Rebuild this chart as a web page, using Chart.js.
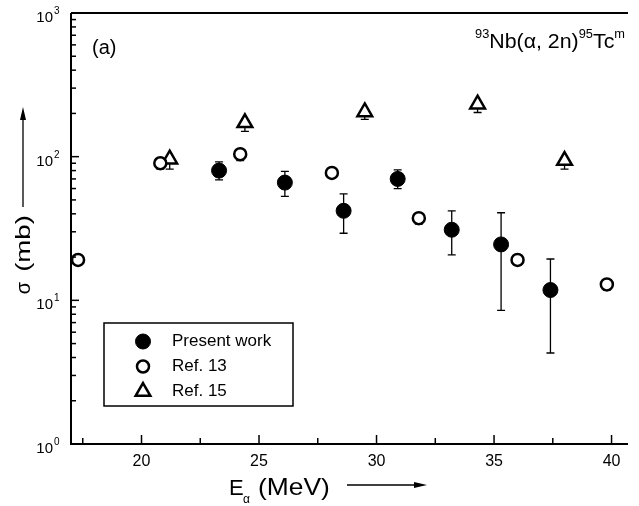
<!DOCTYPE html>
<html>
<head>
<meta charset="utf-8">
<script src="https://cdn.jsdelivr.net/npm/chart.js@4.4.1/dist/chart.umd.min.js"></script>
<style>
  html, body { margin: 0; padding: 0; background: #fff; }
  #wrap { width: 639px; height: 506px; position: relative; }
</style>
</head>
<body>
<div id="wrap"><canvas id="c"></canvas></div>
<script>
// --- data ---
const presentE    = [23.3, 26.1, 28.6, 30.9, 33.2, 35.3, 37.4];
const presentSig  = [80, 66, 42, 70, 31, 24.5, 11.8];
const presentLo   = [69, 53, 29.3, 60, 20.7, 8.5, 4.3];
const presentHi   = [92, 79, 55, 81, 42, 40.7, 19.4];

const ref13E   = [17.3, 20.8, 24.2, 28.1, 31.8, 36.0, 39.8];
const ref13Sig = [19.1, 90, 104, 77, 37.3, 19.1, 12.9];
const ref13Lo  = [17.5, 82, 94, 71, 34, 17.5, 11.8];
const ref13Hi  = [19.1, 90, 104, 77, 37.3, 19.1, 12.9];

const ref15E   = [21.2, 24.4, 29.5, 34.3, 38.0];
const ref15Sig = [96, 172, 205, 232, 94];
const ref15Lo  = [82, 150, 182, 203, 82];
const ref15Hi  = [96, 172, 205, 232, 94];

const xMajor = [20, 25, 30, 35, 40];
const xMinor = [17.5, 22.5, 27.5, 32.5, 37.5];
const yDecades = [1, 10, 100, 1000];
const yExp = ["0", "1", "2", "3"];

const FONT = '"Liberation Sans", Arial, sans-serif';

function pts(xs, ys) { return xs.map((x, i) => ({ x: x, y: ys[i] })); }

const errSets = [
  { lo: presentLo, hi: presentHi, cap: 4 },
  { lo: ref13Lo, hi: ref13Hi, cap: 4 },
  { lo: ref15Lo, hi: ref15Hi, cap: 4 }
];

// text drawn with a horizontal stretch (the scanned figure uses a wide face)
function wideText(ctx, txt, x, y, sx) {
  ctx.save();
  ctx.translate(x, y);
  ctx.scale(sx, 1);
  ctx.fillText(txt, 0, 0);
  ctx.restore();
}

const decor = {
  id: "decor",
  beforeDatasetsDraw(chart) {
    const ctx = chart.ctx;
    const xs = chart.scales.x, ys = chart.scales.y;
    ctx.save();
    ctx.strokeStyle = "#000";
    ctx.lineWidth = 1.3;
    // error bars
    chart.data.datasets.forEach((ds, di) => {
      const e = errSets[di];
      ds.data.forEach((p, i) => {
        const px = xs.getPixelForValue(p.x);
        const y1 = ys.getPixelForValue(e.lo[i]);
        const y2 = ys.getPixelForValue(e.hi[i]);
        if (Math.abs(y1 - y2) < 0.5) return;
        ctx.beginPath();
        ctx.moveTo(px, y1); ctx.lineTo(px, y2);
        ctx.moveTo(px - e.cap, y1); ctx.lineTo(px + e.cap, y1);
        if (di === 0) { ctx.moveTo(px - e.cap, y2); ctx.lineTo(px + e.cap, y2); }
        ctx.stroke();
      });
    });
    ctx.restore();
  },
  afterDraw(chart) {
    const ctx = chart.ctx;
    const a = chart.chartArea;
    const xs = chart.scales.x, ys = chart.scales.y;
    ctx.save();
    ctx.strokeStyle = "#000";
    ctx.fillStyle = "#000";
    ctx.lineWidth = 2;
    // frame: left, bottom, top
    ctx.beginPath();
    ctx.moveTo(a.left, a.top); ctx.lineTo(a.right, a.top);
    ctx.moveTo(a.left, a.top); ctx.lineTo(a.left, a.bottom);
    ctx.lineTo(a.right, a.bottom);
    ctx.stroke();

    // y ticks, inward
    ctx.lineWidth = 1.5;
    yDecades.forEach((d, k) => {
      const py = ys.getPixelForValue(d);
      ctx.beginPath(); ctx.moveTo(a.left, py); ctx.lineTo(a.left + 8, py); ctx.stroke();
      ctx.font = "15px " + FONT;
      ctx.textAlign = "right"; ctx.textBaseline = "alphabetic";
      ctx.fillText("10", 53, py + 9);
      ctx.font = "10px " + FONT;
      ctx.textAlign = "left";
      ctx.fillText(yExp[k], 54, py + 1);
      if (k < yDecades.length - 1) {
        for (let m = 2; m <= 9; m++) {
          const my = ys.getPixelForValue(d * m);
          ctx.beginPath(); ctx.moveTo(a.left, my); ctx.lineTo(a.left + 5, my); ctx.stroke();
        }
      }
    });
    // x ticks, inward
    ctx.font = "16px " + FONT;
    ctx.textAlign = "center"; ctx.textBaseline = "middle";
    xMajor.forEach(v => {
      const px = xs.getPixelForValue(v);
      ctx.beginPath(); ctx.moveTo(px, a.bottom); ctx.lineTo(px, a.bottom - 9); ctx.stroke();
      ctx.fillText(String(v), px, a.bottom + 18);
    });
    xMinor.forEach(v => {
      const px = xs.getPixelForValue(v);
      ctx.beginPath(); ctx.moveTo(px, a.bottom); ctx.lineTo(px, a.bottom - 6); ctx.stroke();
    });

    // (a)
    ctx.font = "20px " + FONT;
    ctx.textAlign = "left"; ctx.textBaseline = "alphabetic";
    ctx.fillText("(a)", 92, 54);

    // reaction label, right-aligned
    const parts = [["93", 12, -10], ["Nb(α, 2n)", 20, 0], ["95", 12, -10], ["Tc", 20, 0], ["m", 12, -10]];
    let w = 0;
    parts.forEach(p => { ctx.font = p[1] + "px " + FONT; w += ctx.measureText(p[0]).width; });
    const sx = 150 / w;
    let tx = 475;
    parts.forEach(p => {
      ctx.font = p[1] + "px " + FONT;
      wideText(ctx, p[0], tx, 48 + p[2], sx);
      tx += ctx.measureText(p[0]).width * sx;
    });

    // y axis title with arrow
    ctx.save();
    ctx.translate(30, 0);
    ctx.rotate(-Math.PI / 2);
    ctx.font = "20px " + FONT;
    ctx.textAlign = "center";
    ctx.fillText("σ", -288, 0);
    wideText(ctx, "(mb)", -243.5, 0, 1.38);
    ctx.restore();
    ctx.lineWidth = 1.3;
    ctx.beginPath(); ctx.moveTo(23, 207); ctx.lineTo(23, 118); ctx.stroke();
    ctx.beginPath(); ctx.moveTo(23, 107); ctx.lineTo(20, 120); ctx.lineTo(26, 120); ctx.closePath(); ctx.fill();

    // x axis title with arrow
    ctx.textAlign = "left";
    ctx.font = "22px " + FONT;
    ctx.fillText("E", 229, 495);
    ctx.font = "12px " + FONT;
    ctx.fillText("α", 243, 503);
    ctx.font = "24px " + FONT;
    wideText(ctx, "(MeV)", 258, 495, 1.1);
    ctx.beginPath(); ctx.moveTo(347, 485); ctx.lineTo(416, 485); ctx.stroke();
    ctx.beginPath(); ctx.moveTo(427, 485); ctx.lineTo(414, 482); ctx.lineTo(414, 488); ctx.closePath(); ctx.fill();

    // legend
    ctx.lineWidth = 1.5;
    ctx.fillStyle = "#fff";
    ctx.fillRect(104, 323, 189, 83);
    ctx.strokeRect(104, 323, 189, 83);
    const rows = ["Present work", "Ref. 13", "Ref. 15"];
    const ry = [341.5, 366.5, 391.5];
    chart.data.datasets.forEach((ds, i) => {
      ctx.fillStyle = ds.backgroundColor;
      ctx.strokeStyle = ds.borderColor;
      ctx.lineWidth = ds.borderWidth;
      Chart.helpers.drawPoint(ctx, { pointStyle: ds.pointStyle, radius: ds.pointRadius, borderWidth: ds.borderWidth, rotation: 0 }, 143, ry[i]);
      ctx.fillStyle = "#000";
      ctx.font = "17px " + FONT;
      ctx.textBaseline = "middle";
      ctx.fillText(rows[i], 172, ry[i]);
    });
    ctx.restore();
  }
};

new Chart(document.getElementById("c"), {
  type: "scatter",
  data: {
    datasets: [
      { label: "Present work", data: pts(presentE, presentSig), pointStyle: "circle",
        pointRadius: 7.5, backgroundColor: "#000", borderColor: "#000", borderWidth: 1 },
      { label: "Ref. 13", data: pts(ref13E, ref13Sig), pointStyle: "circle",
        pointRadius: 6, backgroundColor: "#fff", borderColor: "#000", borderWidth: 2.5 },
      { label: "Ref. 15", data: pts(ref15E, ref15Sig), pointStyle: "triangle",
        pointRadius: 8.5, backgroundColor: "#fff", borderColor: "#000", borderWidth: 2.5 }
    ]
  },
  options: {
    responsive: true,
    maintainAspectRatio: false,
    animation: false,
    layout: { padding: { left: 71, top: 13, right: 0, bottom: 62 } },
    plugins: { legend: { display: false }, tooltip: { enabled: false } },
    scales: {
      x: { type: "linear", min: 17, max: 40.7, display: false },
      y: { type: "logarithmic", min: 1, max: 1000, display: false }
    }
  },
  plugins: [decor]
});
</script>
</body>
</html>
